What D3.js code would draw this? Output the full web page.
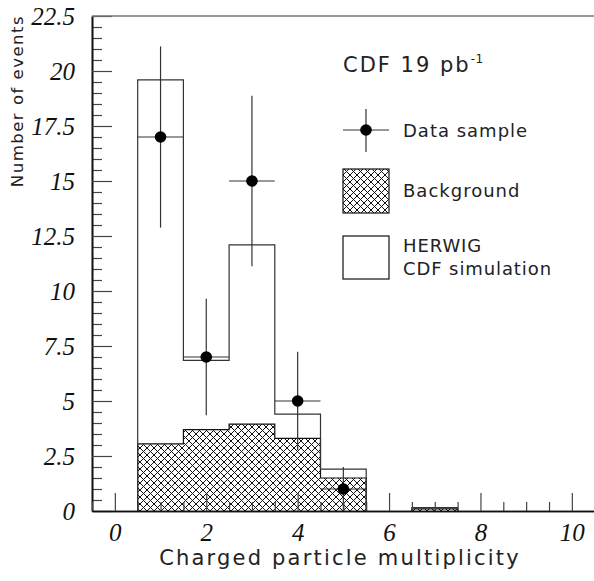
<!DOCTYPE html>
<html>
<head>
<meta charset="utf-8">
<script src="https://cdn.jsdelivr.net/npm/d3@7"></script>
<style>
  html, body { margin: 0; padding: 0; background: #fff; }
  svg { display: block; }
  .sans { font-family: "DejaVu Sans", sans-serif; fill: #222; }
</style>
</head>
<body>
<script>
// ---- data ----
const multiplicity = [0, 1, 2, 3, 4, 5, 6, 7, 8, 9, 10];
const herwig      = [0, 19.6, 6.85, 12.1, 4.4, 1.9, 0, 0.15, 0, 0, 0];
const background  = [0, 3.05, 3.7, 3.95, 3.3, 1.5, 0, 0.1, 0, 0, 0];
const dataX       = [1, 2, 3, 4, 5];
const dataY       = [17, 7, 15, 5, 1];
const dataErr     = [4.12, 2.65, 3.87, 2.24, 1.0];
const yTicks      = [0, 2.5, 5, 7.5, 10, 12.5, 15, 17.5, 20, 22.5];
const xTicks      = [0, 2, 4, 6, 8, 10];

const W = 594, H = 581;
const svg = d3.select("body").append("svg").attr("width", W).attr("height", H);

const x = d3.scaleLinear().domain([-0.5, 10.5]).range([92, 594.7]);
const y = d3.scaleLinear().domain([0, 22.5]).range([511, 16]);

// hatch pattern
const defs = svg.append("defs");
const pat = defs.append("pattern").attr("id", "hatch")
  .attr("patternUnits", "userSpaceOnUse").attr("width", 7).attr("height", 7);
pat.append("rect").attr("width", 7).attr("height", 7).attr("fill", "#fff");
pat.append("path").attr("d", "M0,0 L7,7 M0,7 L7,0 M-1,1 L1,-1 M6,8 L8,6 M-1,6 L1,8 M6,-1 L8,1")
  .attr("stroke", "#111").attr("stroke-width", 1);

// step outline path builder from a value array
function stepPath(vals) {
  const p = d3.path();
  let open = false;
  multiplicity.forEach((m, i) => {
    const v = vals[i];
    const x0 = x(m - 0.5), x1 = x(m + 0.5);
    if (v > 0) {
      if (!open) { p.moveTo(x0, y(0)); open = true; }
      p.lineTo(x0, y(v));
      p.lineTo(x1, y(v));
      const next = i + 1 < vals.length ? vals[i + 1] : 0;
      if (!(next > 0)) { p.lineTo(x1, y(0)); open = false; }
    }
  });
  return p.toString();
}

// background hatched histogram
svg.append("path").attr("d", stepPath(background))
  .attr("fill", "url(#hatch)").attr("stroke", "#111").attr("stroke-width", 1.2);

// HERWIG outline histogram
svg.append("path").attr("d", stepPath(herwig))
  .attr("fill", "none").attr("stroke", "#333").attr("stroke-width", 1.2);

// data points with error bars
const pts = svg.append("g");
dataX.forEach((m, i) => {
  pts.append("line").attr("x1", x(m)).attr("x2", x(m))
    .attr("y1", y(dataY[i] - dataErr[i])).attr("y2", y(dataY[i] + dataErr[i]))
    .attr("stroke", "#333").attr("stroke-width", 1.2);
  pts.append("line").attr("x1", x(m - 0.5)).attr("x2", x(m + 0.5))
    .attr("y1", y(dataY[i])).attr("y2", y(dataY[i]))
    .attr("stroke", "#333").attr("stroke-width", 1.2);
  pts.append("circle").attr("cx", x(m)).attr("cy", y(dataY[i])).attr("r", 5.8).attr("fill", "#000");
});

// axes
const yMinor = d3.range(0, 22.5, 0.5).filter(v => !yTicks.some(t => Math.abs(t - v) < 1e-6));
const xMinor = d3.range(-0.5, 10.5, 0.5).filter(v => !xTicks.some(t => Math.abs(t - v) < 1e-6));

const gyMinor = svg.append("g").attr("transform", `translate(${x(-0.5)},0)`)
  .call(d3.axisLeft(y).tickValues(yMinor).tickSize(-10).tickSizeOuter(0).tickFormat(""));
const gy = svg.append("g").attr("transform", `translate(${x(-0.5)},0)`)
  .call(d3.axisLeft(y).tickValues(yTicks).tickSize(-20).tickSizeOuter(0).tickPadding(17)
    .tickFormat(d => String(d)));
const gxMinor = svg.append("g").attr("transform", `translate(0,${y(0)})`)
  .call(d3.axisBottom(x).tickValues(xMinor).tickSize(-9).tickSizeOuter(0).tickFormat(""));
const gx = svg.append("g").attr("transform", `translate(0,${y(0)})`)
  .call(d3.axisBottom(x).tickValues(xTicks).tickSize(-18).tickSizeOuter(0).tickPadding(12)
    .tickFormat(d => String(d)));

[gyMinor, gy, gxMinor, gx].forEach(g => {
  g.attr("font-family", null).attr("font-size", null);
  g.selectAll("path.domain").attr("stroke", "#111").attr("stroke-width", 1.6);
  g.selectAll(".tick line").attr("stroke", "#444").attr("stroke-width", 1.2);
});
[gy, gx].forEach(g => {
  g.selectAll(".tick text")
    .attr("font-family", "Liberation Serif")
    .attr("font-style", "italic")
    .style("font-family", "'Liberation Serif', 'Times New Roman', serif")
    .style("font-style", "italic")
    .style("font-size", "25px")
    .attr("fill", "#111");
});

// top frame line
svg.append("line").attr("x1", x(-0.5)).attr("x2", W).attr("y1", y(22.5)).attr("y2", y(22.5))
  .attr("stroke", "#777").attr("stroke-width", 1.5);

// axis titles
svg.append("text").attr("class", "sans")
  .attr("x", 340).attr("y", 565).attr("text-anchor", "middle")
  .attr("font-size", 21).attr("letter-spacing", 2.2)
  .text("Charged particle multiplicity");
svg.append("text").attr("class", "sans")
  .attr("transform", "translate(23,101) rotate(-90)").attr("text-anchor", "middle")
  .attr("font-size", 16.5).attr("letter-spacing", 1.5).attr("fill", "#333")
  .text("Number of events");

// legend
const lg = svg.append("g");
const title = lg.append("text").attr("class", "sans").attr("x", 343).attr("y", 72)
  .attr("font-size", 21).attr("letter-spacing", 2);
title.append("tspan").text("CDF 19 pb");
title.append("tspan").attr("dy", -9).attr("font-size", 12).attr("letter-spacing", 0.5).text("-1");

// data sample marker
lg.append("line").attr("x1", 343).attr("x2", 389).attr("y1", 130).attr("y2", 130).attr("stroke", "#333").attr("stroke-width", 1.2);
lg.append("line").attr("x1", 366).attr("x2", 366).attr("y1", 109).attr("y2", 152).attr("stroke", "#333").attr("stroke-width", 1.2);
lg.append("circle").attr("cx", 366).attr("cy", 130).attr("r", 5.8).attr("fill", "#000");
lg.append("text").attr("class", "sans").attr("x", 403).attr("y", 137).attr("font-size", 18).attr("letter-spacing", 1).text("Data sample");

lg.append("rect").attr("x", 343).attr("y", 169).attr("width", 46).attr("height", 44)
  .attr("fill", "url(#hatch)").attr("stroke", "#111").attr("stroke-width", 1.2);
lg.append("text").attr("class", "sans").attr("x", 403).attr("y", 197).attr("font-size", 18).attr("letter-spacing", 1).text("Background");

lg.append("rect").attr("x", 343).attr("y", 236).attr("width", 46).attr("height", 43)
  .attr("fill", "none").attr("stroke", "#111").attr("stroke-width", 1.2);
lg.append("text").attr("class", "sans").attr("x", 403).attr("y", 252).attr("font-size", 18).attr("letter-spacing", 0.9).text("HERWIG");
lg.append("text").attr("class", "sans").attr("x", 403).attr("y", 275).attr("font-size", 18).attr("letter-spacing", 0.9).text("CDF simulation");
</script>
</body>
</html>
